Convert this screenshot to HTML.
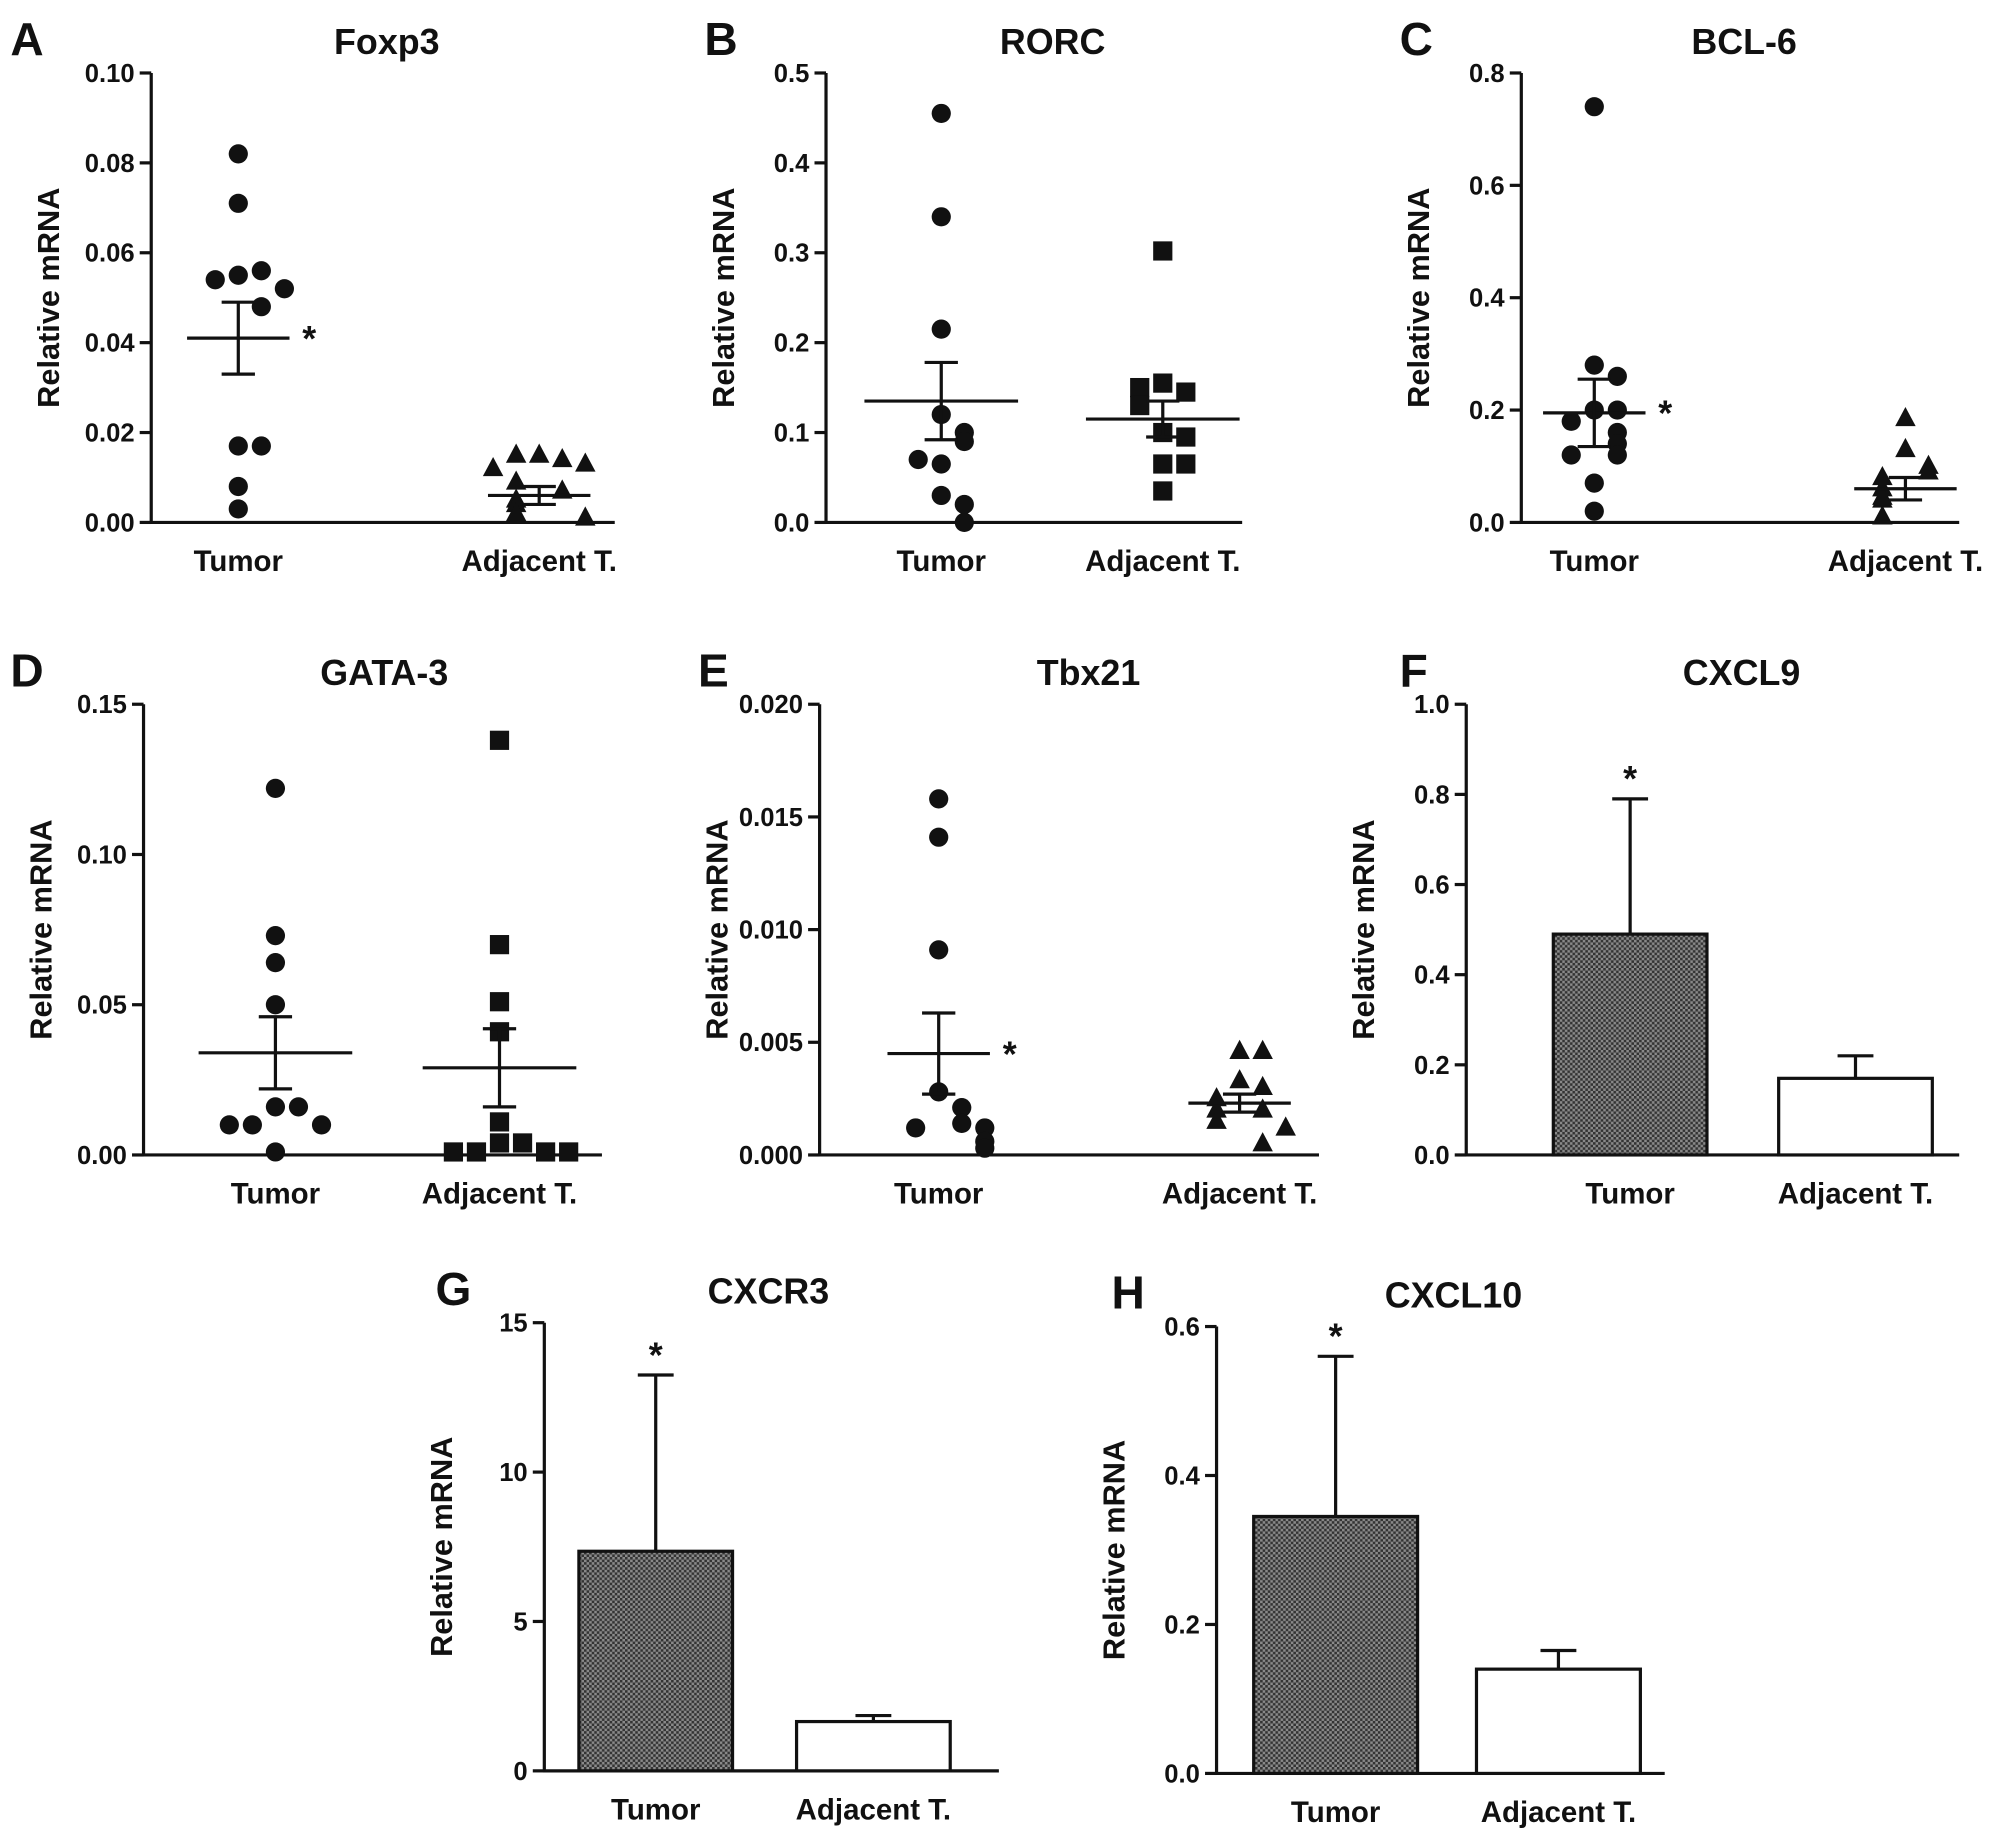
<!DOCTYPE html>
<html><head><meta charset="utf-8"><style>
html,body{margin:0;padding:0;background:#fff}
svg{display:block}
text{font-family:"Liberation Sans",Arial,sans-serif;font-weight:bold;fill:#111}
</style></head><body>
<svg id="fig" width="2008" height="1840" viewBox="0 0 1568 1437" xmlns="http://www.w3.org/2000/svg">
<defs>
<pattern id="hatch" width="4" height="4" patternUnits="userSpaceOnUse">
<rect width="4" height="4" fill="#8a8a8a"/><rect width="2" height="2" fill="#333"/><rect x="2" y="2" width="2" height="2" fill="#333"/>
</pattern>
</defs>
</svg>
<script>
const NS="http://www.w3.org/2000/svg";
const svg=document.getElementById('fig');
// ---- data ----
const categories=["Tumor","Adjacent T."];
const foxp3Tumor=[0.082,0.071,0.055,0.056,0.054,0.052,0.048,0.017,0.017,0.008,0.003];
const foxp3Adj=[0.015,0.014,0.015,0.013,0.012,0.009,0.007,0.005,0.004,0.002,0.001];
const foxp3Stats=[[0.041,0.008],[0.006,0.002]];
const rorcTumor=[0.455,0.34,0.215,0.12,0.1,0.09,0.065,0.07,0.03,0.02,0.0];
const rorcAdj=[0.302,0.155,0.145,0.15,0.13,0.1,0.095,0.065,0.065,0.035];
const rorcStats=[[0.135,0.043],[0.115,0.02]];
const bcl6Tumor=[0.74,0.28,0.26,0.2,0.2,0.18,0.16,0.14,0.12,0.12,0.07,0.02];
const bcl6Adj=[0.185,0.13,0.1,0.09,0.08,0.06,0.045,0.04,0.01];
const bcl6Stats=[[0.195,0.06],[0.06,0.02]];
const gata3Tumor=[0.122,0.073,0.064,0.05,0.016,0.016,0.01,0.01,0.01,0.001];
const gata3Adj=[0.138,0.07,0.051,0.041,0.011,0.004,0.004,0.001,0.001,0.001,0.001];
const gata3Stats=[[0.034,0.012],[0.029,0.013]];
const tbx21Tumor=[0.0158,0.0141,0.0091,0.0028,0.0021,0.0014,0.0012,0.0012,0.0006,0.0003];
const tbx21Adj=[0.0046,0.0046,0.0033,0.003,0.0025,0.002,0.002,0.0015,0.0012,0.0005];
const tbx21Stats=[[0.0045,0.0018],[0.0023,0.0004]];
const cxcl9Means=[0.49,0.17];
const cxcl9Err=[0.79,0.22];
const cxcr3Means=[7.35,1.65];
const cxcr3Err=[13.25,1.85];
const cxcl10Means=[0.345,0.14];
const cxcl10Err=[0.56,0.165];
const ticksFoxp3=["0.00","0.02","0.04","0.06","0.08","0.10"];
const ticksRorc=["0.0","0.1","0.2","0.3","0.4","0.5"];
const ticksBcl6=["0.0","0.2","0.4","0.6","0.8"];
const ticksGata3=["0.00","0.05","0.10","0.15"];
const ticksTbx21=["0.000","0.005","0.010","0.015","0.020"];
const ticksCxcl9=["0.0","0.2","0.4","0.6","0.8","1.0"];
const ticksCxcr3=["0","5","10","15"];
const ticksCxcl10=["0.0","0.2","0.4","0.6"];

function el(tag,attrs,parent,txt){const e=document.createElementNS(NS,tag);for(const k in attrs)e.setAttribute(k,attrs[k]);if(txt!==undefined)e.textContent=txt;(parent||svg).appendChild(e);return e;}

function panel(cfg){
  const g=el('g',{});
  
  
  const ymax=parseFloat(cfg.ticks[cfg.ticks.length-1]);
  const y=v=>cfg.y0-(v/ymax)*(cfg.y0-cfg.y1);
  const ax=el('path',{d:`M${cfg.ax},${cfg.y1}V${cfg.y0}H${cfg.axEnd}`,stroke:'#111','stroke-width':2.5,fill:'none'},g);
  
  
  cfg.ticks.forEach(t=>{
    const yy=y(parseFloat(t));
    el('line',{x1:cfg.ax-9,x2:cfg.ax,y1:yy,y2:yy,stroke:'#111','stroke-width':2.5},g);
    const tl=el('text',{x:cfg.ax-13,y:yy+7,'text-anchor':'end','font-size':20},g,t);
    
    
  });
  const lt=el('text',{x:cfg.letterX,y:cfg.y1-14,'font-size':36},g,cfg.letter);
  
  
  const tt=el('text',{x:cfg.titleX,y:cfg.y1-15,'text-anchor':'middle','font-size':28},g,cfg.title);
  
  
  const yt=el('text',{x:0,y:0,'text-anchor':'middle','font-size':24,transform:`translate(${cfg.ax-72},${(cfg.y0+cfg.y1)/2}) rotate(-90)`},g,'Relative mRNA');
  
  
  categories.forEach((c,i)=>{
    const xl=el('text',{x:cfg.cx[i],y:cfg.y0+38,'text-anchor':'middle','font-size':23},g,c);
    
    
  });
  if(cfg.series){
    cfg.series.forEach((vals,i)=>{
      const cx=cfg.cx[i];
      const used=[];
      vals.forEach((v,j)=>{
        const yy=y(v);
        const near=used.filter(p=>Math.abs(p-yy)<16).length;
        used.push(yy);
        const off=near===0?0:((near%2?1:-1)*Math.ceil(near/2)*18);
        const x=cx+off;
        let m;
        if(cfg.shapes[i]==='c') m=el('circle',{cx:x,cy:yy,r:7.5,fill:'#111'},g);
        else if(cfg.shapes[i]==='s') m=el('rect',{x:x-7.5,y:yy-7.5,width:15,height:15,fill:'#111'},g);
        else m=el('path',{d:`M${x},${yy-9}L${x+8},${yy+6}L${x-8},${yy+6}Z`,fill:'#111'},g);
        
        
      });
      const [mean,sem]=cfg.stats[i];
      const mw=cfg.meanW;
      const ml=el('line',{x1:cx-mw,x2:cx+mw,y1:y(mean),y2:y(mean),stroke:'#111','stroke-width':2.5},g);
      
      
      const eb=el('path',{d:`M${cx},${y(mean+sem)}V${y(mean-sem)}M${cx-13},${y(mean+sem)}H${cx+13}M${cx-13},${y(mean-sem)}H${cx+13}`,stroke:'#111','stroke-width':2.5,fill:'none'},g);
      
      
      if(cfg.star&&i===0){
        const s=el('text',{x:cx+mw+10,y:y(mean)+10,'font-size':28,'font-weight':'normal'},g,'*');
        
        
      }
    });
  } else {
    cfg.means.forEach((v,i)=>{
      const cx=cfg.cx[i],bw=cfg.barW;
      const e=el('path',{d:`M${cx},${y(v)}V${y(cfg.err[i])}M${cx-14},${y(cfg.err[i])}H${cx+14}`,stroke:'#111','stroke-width':2.5},g);
      
      
      const b=el('rect',{x:cx-bw/2,y:y(v),width:bw,height:cfg.y0-y(v),fill:i===0?'url(#hatch)':'#fff',stroke:'#111','stroke-width':2.5},g);
      
      
      if(i===0){
        const s=el('text',{x:cx,y:y(cfg.err[i])-6,'text-anchor':'middle','font-size':28,'font-weight':'normal'},g,'*');
        
        
      }
    });
  }
}
panel({letter:'A',letterX:8,title:'Foxp3',titleX:302,ax:118,axEnd:480,y0:408,y1:57,ticks:ticksFoxp3,cx:[186,421],series:[foxp3Tumor,foxp3Adj],stats:foxp3Stats,shapes:['c','t'],meanW:40,star:true});
panel({letter:'B',letterX:550,title:'RORC',titleX:822,ax:645,axEnd:970,y0:408,y1:57,ticks:ticksRorc,cx:[735,908],series:[rorcTumor,rorcAdj],stats:rorcStats,shapes:['c','s'],meanW:60,star:false});
panel({letter:'C',letterX:1093,title:'BCL-6',titleX:1362,ax:1188,axEnd:1530,y0:408,y1:57,ticks:ticksBcl6,cx:[1245,1488],series:[bcl6Tumor,bcl6Adj],stats:bcl6Stats,shapes:['c','t'],meanW:40,star:true});
panel({letter:'D',letterX:8,title:'GATA-3',titleX:300,ax:112,axEnd:470,y0:902,y1:550,ticks:ticksGata3,cx:[215,390],series:[gata3Tumor,gata3Adj],stats:gata3Stats,shapes:['c','s'],meanW:60,star:false});
panel({letter:'E',letterX:545,title:'Tbx21',titleX:850,ax:640,axEnd:1030,y0:902,y1:550,ticks:ticksTbx21,cx:[733,968],series:[tbx21Tumor,tbx21Adj],stats:tbx21Stats,shapes:['c','t'],meanW:40,star:true});
panel({letter:'F',letterX:1093,title:'CXCL9',titleX:1360,ax:1145,axEnd:1530,y0:902,y1:550,ticks:ticksCxcl9,cx:[1273,1449],means:cxcl9Means,err:cxcl9Err,barW:120});
panel({letter:'G',letterX:340,title:'CXCR3',titleX:600,ax:425,axEnd:780,y0:1383,y1:1033,ticks:ticksCxcr3,cx:[512,682],means:cxcr3Means,err:cxcr3Err,barW:120});
panel({letter:'H',letterX:868,title:'CXCL10',titleX:1135,ax:950,axEnd:1300,y0:1385,y1:1036,ticks:ticksCxcl10,cx:[1043,1217],means:cxcl10Means,err:cxcl10Err,barW:128});
</script>
</body></html>
